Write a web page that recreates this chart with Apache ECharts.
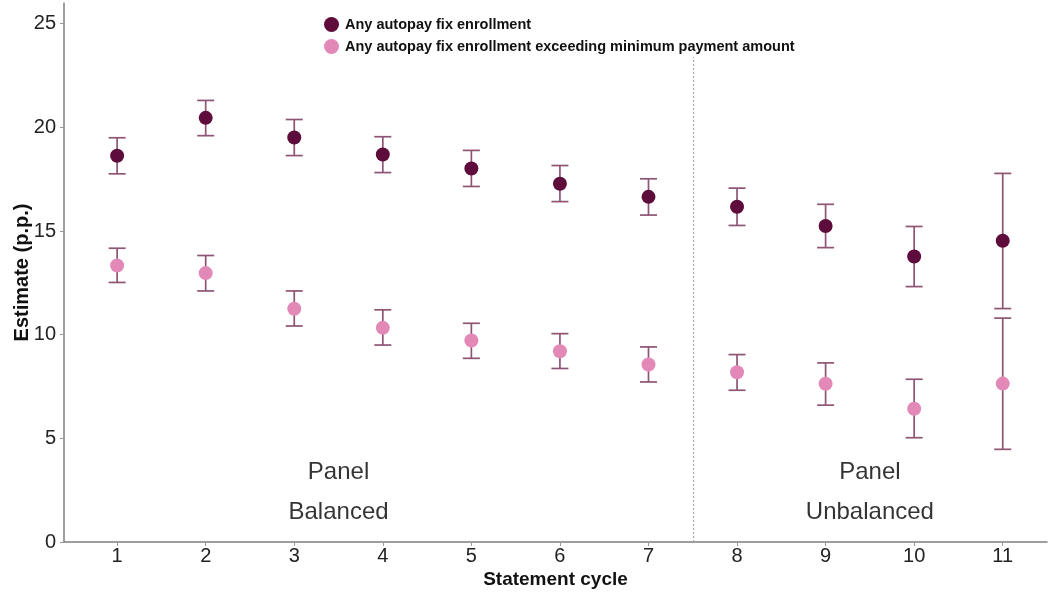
<!DOCTYPE html>
<html><head><meta charset="utf-8">
<script src="https://cdn.jsdelivr.net/npm/echarts@6/dist/echarts.min.js"></script>
<style>html,body{margin:0;padding:0;background:#fff}#c{width:1049px;height:595px}</style>
</head><body><div id="c"></div>
<script>
const cycles = [1,2,3,4,5,6,7,8,9,10,11];
const estAny = [18.63,20.46,19.51,18.69,18.02,17.28,16.65,16.17,15.24,13.77,14.53];
const loAny  = [17.76,19.60,18.64,17.82,17.15,16.42,15.77,15.27,14.20,12.32,11.26];
const hiAny  = [19.50,21.30,20.38,19.55,18.89,18.16,17.52,17.07,16.29,15.22,17.78];
const estMin = [13.34,12.97,11.25,10.33,9.72,9.20,8.56,8.19,7.63,6.43,7.64];
const loMin  = [12.52,12.11,10.42,9.50,8.86,8.37,7.72,7.32,6.60,5.03,4.47];
const hiMin  = [14.17,13.82,12.11,11.20,10.55,10.05,9.41,9.04,8.64,7.85,10.80];
const yTicks = [0,5,10,15,20,25];
const splitAt = 7.5;
const names = ['Any autopay fix enrollment','Any autopay fix enrollment exceeding minimum payment amount'];

const barColor = '#8e5474';
function errData(lo, hi){ return cycles.map((c,i)=>[c, lo[i], hi[i]]); }
function renderErr(params, api){
  const x = api.value(0);
  const p1 = api.coord([x, api.value(1)]);
  const p2 = api.coord([x, api.value(2)]);
  const w = 8.5;
  const st = {stroke: barColor, lineWidth: 1.7};
  return {type:'group', children:[
    {type:'line', shape:{x1:p1[0],y1:p1[1],x2:p2[0],y2:p2[1]}, style:st},
    {type:'line', shape:{x1:p1[0]-w,y1:p1[1],x2:p1[0]+w,y2:p1[1]}, style:st},
    {type:'line', shape:{x1:p2[0]-w,y1:p2[1],x2:p2[0]+w,y2:p2[1]}, style:st}
  ]};
}
const chart = echarts.init(document.getElementById('c'));
chart.setOption({
  animation:false,
  textStyle:{fontFamily:'Liberation Sans, Arial, sans-serif'},
  grid:{left:64,right:2,top:3,bottom:53,outerBoundsMode:'none',containLabel:false},
  legend:{orient:'vertical',left:319,top:12,itemGap:7,itemWidth:15,itemHeight:15,
    textStyle:{fontSize:14.5,fontWeight:'bold',color:'#111',padding:[0,0,0,1]},
    data:[{name:names[0],icon:'circle'},{name:names[1],icon:'circle'}]},
  xAxis:{type:'value',min:0.4,max:11.5,interval:1,
    axisLine:{show:true,onZero:false,lineStyle:{color:'#7f7f7f',width:1.5}},
    axisTick:{show:true,length:4,lineStyle:{color:'#999'},customValues:cycles},
    axisLabel:{customValues:cycles,fontSize:20,color:'#222',margin:4},
    splitLine:{show:false},
    name:'Statement cycle',nameLocation:'middle',nameGap:28,nameMoveOverlap:false,
    nameTextStyle:{fontSize:19,fontWeight:'bold',color:'#111'}},
  yAxis:{type:'value',min:0,max:26,
    axisLine:{show:true,lineStyle:{color:'#7f7f7f',width:1.5}},
    axisTick:{show:true,length:4,lineStyle:{color:'#999'},customValues:yTicks},
    axisLabel:{customValues:yTicks,fontSize:20,color:'#222',margin:8},
    splitLine:{show:false},
    name:'Estimate (p.p.)',nameLocation:'middle',nameGap:32,nameMoveOverlap:false,
    nameTextStyle:{fontSize:20,fontWeight:'bold',color:'#111'}},
  series:[
    {type:'custom',name:'errAny',renderItem:renderErr,data:errData(loAny,hiAny),z:1,silent:true,
      markLine:{symbol:'none',silent:true,label:{show:false},lineStyle:{color:'#a8a8a8',type:[2,2],width:1.2},
        data:[[{coord:[splitAt,0]},{coord:[splitAt,23.4]}]]}},
    {type:'custom',name:'errMin',renderItem:renderErr,data:errData(loMin,hiMin),z:1,silent:true},
    {type:'scatter',name:names[0],data:cycles.map((c,i)=>[c,estAny[i]]),symbolSize:14,z:3,
      itemStyle:{color:'#5d0c3b',opacity:1}},
    {type:'scatter',name:names[1],data:cycles.map((c,i)=>[c,estMin[i]]),symbolSize:14,z:3,
      itemStyle:{color:'#e289b8',opacity:1}},
    {type:'scatter',name:'labels',symbolSize:0,silent:true,z:4,
      data:[
        {value:[3.5,3.35],label:{formatter:'Panel'}},
        {value:[3.5,1.45],label:{formatter:'Balanced'}},
        {value:[9.5,3.35],label:{formatter:'Panel'}},
        {value:[9.5,1.45],label:{formatter:'Unbalanced'}}
      ],
      label:{show:true,position:'inside',fontSize:24,color:'#000',textBorderWidth:0}}
  ]
});
</script></body></html>
